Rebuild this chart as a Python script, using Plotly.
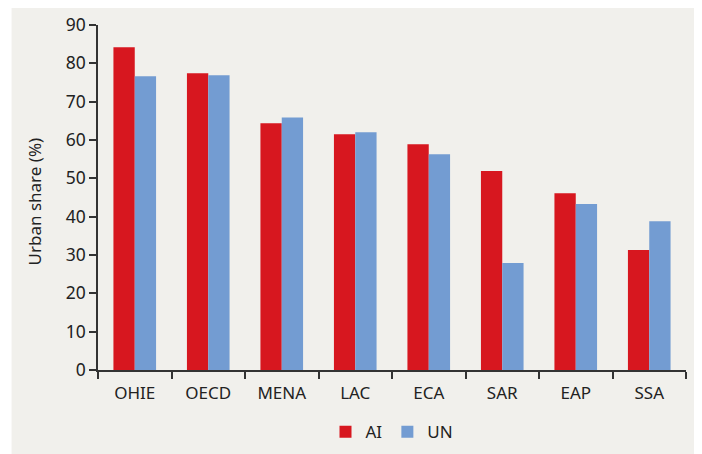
import plotly.graph_objects as go

regions = ["OHIE", "OECD", "MENA", "LAC", "ECA", "SAR", "EAP", "SSA"]
ai_values = [84.2, 77.4, 64.4, 61.5, 58.9, 51.9, 46.1, 31.3]
un_values = [76.6, 76.9, 65.9, 62.0, 56.3, 27.9, 43.3, 38.8]
y_ticks = [0, 10, 20, 30, 40, 50, 60, 70, 80, 90]

RED = "#d7171f"
BLUE = "#739cd2"
BG = "#f1f0ec"
AX = "#333333"
FONT = "Noto Sans"

fig = go.Figure()
fig.add_trace(go.Bar(x=regions, y=ai_values, name="AI", marker=dict(color=RED, line=dict(width=0))))
fig.add_trace(go.Bar(x=regions, y=un_values, name="UN", marker=dict(color=BLUE, line=dict(width=0))))

fig.add_shape(type="rect", xref="paper", yref="paper",
              x0=-0.147, x1=1.06, y0=-0.3, y1=1.06,
              fillcolor=BG, line=dict(width=0), layer="below")

fig.add_annotation(text="Urban share (%)", xref="paper", yref="paper",
                   x=-0.108, y=0.49, xanchor="center", yanchor="middle",
                   textangle=-90, showarrow=False, font=dict(size=17, color="#222222"))

fig.update_layout(
    width=702, height=454,
    margin=dict(l=89.5, r=24, t=16.7, b=92, autoexpand=False),
    paper_bgcolor="white",
    plot_bgcolor="rgba(0,0,0,0)",
    barmode="group",
    bargap=0.42,
    bargroupgap=0,
    font=dict(family=FONT, size=17, color="#222222"),
    showlegend=True,
    legend=dict(orientation="h", x=0.5, xanchor="center", y=-0.18, yanchor="middle",
                font=dict(size=17), bgcolor="rgba(0,0,0,0)"),
    xaxis=dict(
        type="category",
        tickson="boundaries",
        ticks="outside", ticklen=7, tickwidth=1.5, tickcolor=AX,
        showline=True, linecolor=AX, linewidth=1.5,
        showgrid=False,
        tickfont=dict(size=17),
        ticklabelstandoff=7,
        range=[-0.5, 7.5],
    ),
    yaxis=dict(
        range=[0, 90],
        tickvals=y_ticks,
        ticks="outside", ticklen=7, tickwidth=1.5, tickcolor=AX,
        showline=True, linecolor=AX, linewidth=1.5,
        showgrid=False, zeroline=False,
        tickfont=dict(size=17.5),
    ),
)

fig.write_html("out.html")
